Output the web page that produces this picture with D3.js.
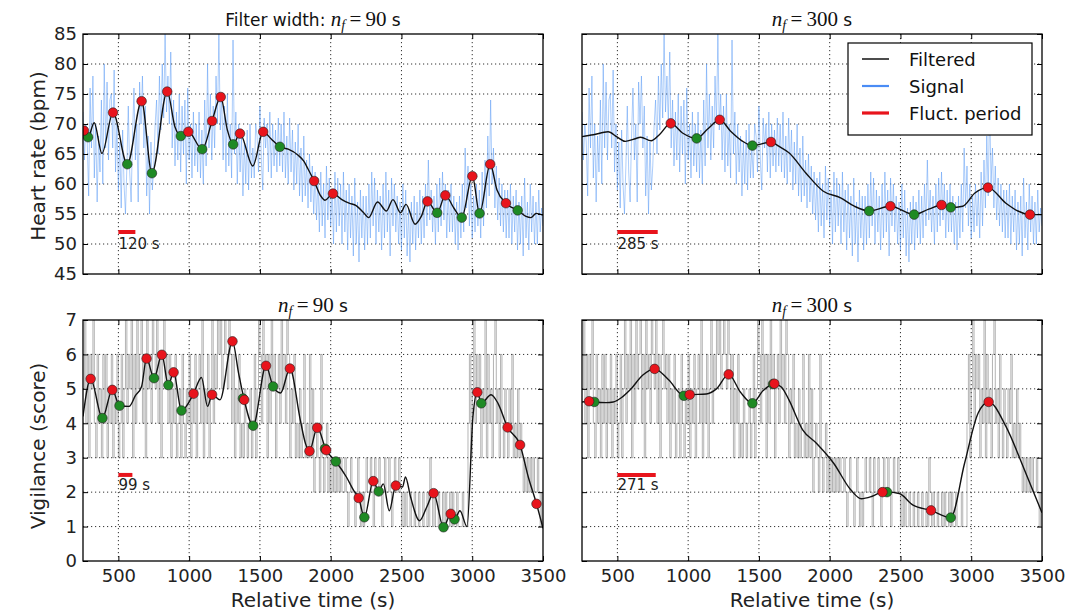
<!DOCTYPE html>
<html>
<head>
<meta charset="utf-8">
<script src="https://cdn.jsdelivr.net/npm/d3@7"></script>
<style>
  body { margin: 0; background: #fff; }
  svg { font-family: "DejaVu Sans", sans-serif; }
  .grid line { stroke: #333; stroke-width: 1; stroke-dasharray: 1.2,2.8; }
  .axis path { display: none; }
  .axis line { stroke: #000; stroke-width: 1; }
  .axis text { font-size: 18px; fill: #222; font-family: "DejaVu Sans", sans-serif; }
  .frame { fill: none; stroke: #000; stroke-width: 1.3; }
  .signal-hr { fill: none; stroke: #4a90f5; stroke-width: 0.9; stroke-opacity: 0.5; }
  .signal-vig { fill: none; stroke: #5a5a5a; stroke-width: 0.7; stroke-opacity: 0.65; }
  .filtered { fill: none; stroke: #111; stroke-width: 1.4; }
  .scalebar { stroke: #e8141c; stroke-width: 4; }
  .scalelabel { font-size: 15px; fill: #222; }
  .ylabel, .xlabel { font-size: 20px; fill: #222; }
</style>
<title>Heart rate and vigilance fluctuations</title>
</head>
<body>
<svg id="chart" width="1082" height="612"></svg>
<script>
// raw signals, one sample every 10 s from 250 s
var tStart = 250, tStep = 10;

var heartRate = [
  72,64,70,67,58,76,66,78,61,70, 57,68,62,74,60,80,66,77,64,74,   // 250
  75,66,79,62,70,59,67,56,69,60, 55,63,73,62,57,68,76,64,70,57,   // 450
  77,70,78,66,73,58,68,55,67,59, 63,70,74,65,78,69,80,71,85,72,   // 650
  78,70,82,66,74,63,72,64,75,62, 73,65,74,60,76,64,70,61,72,63,   // 850
  70,62,72,61,69,60,74,63,80,66, 75,64,73,66,78,70,85,69,75,64,   // 1050
  73,62,75,63,70,61,84,65,72,60, 70,62,68,58,67,60,69,59,70,61,   // 1250
  66,61,70,68,62,73,64,59,71,66, 70,62,72,61,70,63,69,62,71,63,   // 1450
  70,62,72,61,68,60,71,62,69,59, 67,60,70,58,66,57,68,58,64,56,   // 1650
  65,57,63,55,62,54,61,52,62,53, 60,51,63,54,61,53,59,50,62,52,   // 1850
  61,53,60,50,62,52,59,49,60,51, 58,48,61,50,57,47,59,51,58,49,   // 2050
  58,50,60,51,62,53,61,50,59,52, 58,49,60,51,62,52,59,48,61,53,   // 2250
  60,52,58,50,57,49,60,51,59,48, 56,47,57,50,58,49,57,51,59,50,   // 2450
  58,51,60,53,64,54,59,52,58,50, 60,52,61,53,62,54,60,51,59,52,   // 2650
  60,52,58,50,57,49,58,51,60,52, 66,56,63,53,60,51,58,52,60,53,   // 2850
  59,51,62,53,64,56,68,58,74,60, 66,56,63,54,61,53,60,52,59,51,   // 3050
  59,51,60,50,58,52,59,49,57,50, 58,48,61,51,57,49,60,52,58,50,   // 3250
  57,50,59,52,56,53                                               // 3450
];

var vigilance = [
  5,7,4,6,3,6,5,7,4,3, 6,4,5,3,6,4,6,3,5,4,   // 250
  6,3,5,4,6,3,4,6,3,5, 7,4,6,5,7,3,6,4,7,5,   // 450
  6,7,4,6,3,7,5,6,4,7, 6,5,7,4,6,3,6,7,5,6,   // 650
  4,6,3,5,4,6,3,4,5,3, 6,4,3,5,4,6,3,5,4,6,   // 850
  3,5,6,4,7,3,5,4,6,3, 5,7,4,6,5,7,6,7,5,6,   // 1050
  7,6,5,7,6,4,6,3,5,4, 6,3,4,3,5,4,3,4,5,3,   // 1250
  4,6,3,5,7,6,4,7,5,6, 3,6,4,7,5,6,3,5,6,4,   // 1450
  7,5,6,4,7,6,3,5,4,6, 3,4,3,5,3,4,6,3,4,3,   // 1650
  6,3,5,2,3,4,3,2,6,3, 2,3,4,2,3,2,3,2,3,2,   // 1850
  3,2,3,2,2,3,2,1,2,3, 2,2,1,2,3,2,1,2,1,2,   // 2050
  3,2,2,3,2,1,3,2,2,3, 2,1,2,3,2,2,3,2,1,2,   // 2250
  3,2,2,3,2,1,2,1,2,1, 1,2,1,1,2,1,1,2,1,1,   // 2450
  2,1,1,2,1,3,2,1,2,1, 1,2,1,1,2,1,2,1,1,2,   // 2650
  1,2,1,1,2,1,1,1,2,1, 1,1,4,6,3,5,7,4,6,5,   // 2850
  6,3,5,4,7,3,6,4,5,3, 6,7,4,5,3,6,4,3,5,4,   // 3050
  3,5,4,6,3,4,3,5,3,4, 3,2,3,2,3,2,3,2,3,2,   // 3250
  2,3,2,1,2,1                                 // 3450
];

// filtered curves [time, value]
var hrFilt90 = [[250,69.2],[256,68.9],[286,67.8],[329,70.2],[384,65.1],[462,71.9],[563,63.3],[664,73.8],
  [737,61.8],[845,75.4],[900,69.5],[941,68.0],[994,68.7],[1092,65.8],[1162,70.5],[1223,74.5],[1270,69.0],
  [1311,66.6],[1359,68.4],[1450,63.0],[1523,68.7],[1580,67.5],[1641,66.2],[1700,65.8],[1770,64.8],
  [1810,63.8],[1840,62.5],[1883,60.5],[1930,58.0],[1960,57.3],[2016,58.4],[2079,57.4],[2130,56.8],
  [2180,56.4],[2230,55.3],[2268,54.4],[2331,57.0],[2394,55.5],[2440,57.4],[2494,55.2],[2532,56.6],
  [2596,53.3],[2640,54.6],[2684,57.1],[2752,55.2],[2810,58.1],[2870,56.0],[2926,54.4],[3001,61.3],
  [3052,55.1],[3127,63.3],[3175,59.0],[3238,56.8],[3321,55.6],[3380,54.6],[3414,54.4],[3452,55.1],[3500,54.8]];
var hrFilt300 = [[250,67.9],[330,68.2],[434,68.7],[500,67.8],[556,67.1],[620,67.5],[665,67.8],[738,67.2],
  [800,68.3],[877,70.1],[960,68.5],[1060,67.6],[1140,69.2],[1223,70.7],[1300,68.8],[1380,67.2],[1454,66.4],
  [1585,67.0],[1640,66.3],[1712,65.2],[1833,61.8],[1955,58.8],[2077,57.7],[2174,56.3],[2279,55.5],
  [2429,56.3],[2597,54.9],[2700,55.8],[2790,56.5],[2855,56.1],[2940,56.3],[3026,58.5],[3118,59.4],
  [3245,56.8],[3330,55.5],[3415,54.9],[3500,54.9]];
var vigFilt90 = [[250,4.2],[304,5.29],[387,4.15],[457,4.97],[508,4.51],[576,4.49],[620,4.8],[664,5.07],
  [699,5.88],[752,5.31],[807,5.99],[853,5.11],[890,5.48],[946,4.37],[1031,4.86],[1087,5.33],[1130,4.49],
  [1162,4.83],[1218,4.68],[1306,6.38],[1349,5.46],[1389,4.68],[1452,3.93],[1543,5.67],[1593,5.07],
  [1646,4.88],[1712,5.59],[1785,4.1],[1822,3.41],[1850,3.19],[1905,3.87],[1968,3.22],[2036,2.89],
  [2111,2.44],[2162,2.05],[2198,1.83],[2238,1.27],[2301,2.32],[2339,2.02],[2372,2.24],[2414,1.46],
  [2460,2.19],[2508,2.15],[2528,2.44],[2565,1.85],[2628,1.17],[2678,1.56],[2727,1.97],[2797,0.98],
  [2848,1.37],[2875,1.21],[2913,1.46],[2963,1.0],[3005,4.19],[3036,4.9],[3064,4.58],[3133,4.83],
  [3182,4.58],[3250,3.88],[3338,3.37],[3396,2.44],[3454,1.66],[3500,0.95]];
var vigFilt300 = [[250,4.62],[300,4.64],[337,4.62],[420,4.6],[471,4.62],[530,4.75],[592,4.98],[680,5.4],
  [763,5.58],[860,5.27],[970,4.8],[1011,4.83],[1128,4.85],[1200,5.0],[1286,5.42],[1370,4.9],[1454,4.58],
  [1530,4.95],[1609,5.15],[1660,5.05],[1712,4.68],[1809,3.81],[1906,3.42],[2028,2.84],[2150,2.06],
  [2223,1.81],[2300,1.88],[2373,2.0],[2405,2.0],[2491,1.96],[2589,1.62],[2716,1.47],[2855,1.26],
  [2953,2.84],[3049,4.3],[3123,4.62],[3245,3.91],[3367,2.74],[3500,1.4]];

// fluctuation peaks (red) and troughs (green)
var hrPeaks90 = [[256,68.9],[462,71.9],[664,73.8],[845,75.4],[994,68.7],[1162,70.5],[1223,74.5],[1359,68.4],
  [1523,68.7],[1883,60.5],[2016,58.4],[2684,57.1],[2810,58.1],[3001,61.3],[3127,63.3],[3238,56.8]];
var hrTroughs90 = [[286,67.8],[563,63.3],[737,61.8],[941,68.0],[1092,65.8],[1311,66.6],[1641,66.2],
  [2752,55.2],[2926,54.4],[3052,55.1],[3321,55.6]];
var hrPeaks300 = [[877,70.1],[1223,70.7],[1585,67.0],[2429,56.3],[2790,56.5],[3118,59.4],[3415,54.9]];
var hrTroughs300 = [[1060,67.6],[1454,66.4],[2279,55.5],[2597,54.9],[2855,56.1]];
var vigPeaks90 = [[304,5.29],[457,4.97],[699,5.88],[807,5.99],[890,5.48],[1031,4.86],[1162,4.83],[1306,6.38],
  [1389,4.68],[1543,5.67],[1712,5.59],[1850,3.19],[1905,3.87],[1968,3.22],[2198,1.83],[2301,2.32],
  [2460,2.19],[2727,1.97],[2848,1.37],[3036,4.9],[3250,3.88],[3338,3.37],[3454,1.66]];
var vigTroughs90 = [[387,4.15],[508,4.51],[752,5.31],[853,5.11],[946,4.37],[1380,4.72],[1452,3.93],[1593,5.07],
  [1960,3.26],[2036,2.89],[2238,1.27],[2339,2.02],[2797,0.98],[2875,1.21],[3064,4.58]];
var vigPeaks300 = [[300,4.64],[763,5.58],[1011,4.83],[1286,5.42],[1609,5.15],[2373,2.0],[2716,1.47],[3123,4.62]];
var vigTroughs300 = [[337,4.62],[970,4.8],[1454,4.58],[1600,5.14],[2405,2.0],[2855,1.26]];

// fluctuation period scale bars
var periods = [120, 285, 99, 271];

var xTicks = [500, 1000, 1500, 2000, 2500, 3000, 3500];
var hrTicks = [45, 50, 55, 60, 65, 70, 75, 80, 85];
var vigTicks = [0, 1, 2, 3, 4, 5, 6, 7];
var legendLabels = ["Filtered", "Signal", "Fluct. period"];

var svg = d3.select("#chart");
var W = 460, H = 240;
var x = d3.scaleLinear().domain([250, 3500]).range([0, W]);
var yHr = d3.scaleLinear().domain([45, 85]).range([H, 0]);
var yVig = d3.scaleLinear().domain([0, 7]).range([H + 1, 0]);

var hrSeries = heartRate.map(function(v, i) { return [tStart + i * tStep, v]; });
var vigSeries = vigilance.map(function(v, i) { return [tStart + i * tStep, v]; });

var panels = [
  {id: "p0", left: 83,  top: 34,  y: yHr,  ticks: hrTicks,  sig: hrSeries,  sigCls: "signal-hr",  filt: hrFilt90,
   peaks: hrPeaks90, troughs: hrTroughs90, period: periods[0], barY: 52, labY: 49.2, ylab: true, xlab: false,
   prefix: "Filter width: ", nf: "90"},
  {id: "p1", left: 582, top: 34,  y: yHr,  ticks: hrTicks,  sig: hrSeries,  sigCls: "signal-hr",  filt: hrFilt300,
   peaks: hrPeaks300, troughs: hrTroughs300, period: periods[1], barY: 52, labY: 49.2, ylab: false, xlab: false,
   prefix: "", nf: "300", legend: true},
  {id: "p2", left: 83,  top: 320, y: yVig, ticks: vigTicks, sig: vigSeries, sigCls: "signal-vig", filt: vigFilt90,
   peaks: vigPeaks90, troughs: vigTroughs90, period: periods[2], barY: 2.5, labY: 2.06, ylab: true, xlab: true,
   prefix: "", nf: "90"},
  {id: "p3", left: 582, top: 320, y: yVig, ticks: vigTicks, sig: vigSeries, sigCls: "signal-vig", filt: vigFilt300,
   peaks: vigPeaks300, troughs: vigTroughs300, period: periods[3], barY: 2.5, labY: 2.06, ylab: false, xlab: true,
   prefix: "", nf: "300"}
];

panels.forEach(function(p) {
  var y = p.y, h = y.range()[0];
  var g = svg.append("g").attr("transform", "translate(" + p.left + "," + p.top + ")");

  g.append("clipPath").attr("id", "clip-" + p.id)
    .append("rect").attr("width", W).attr("height", h);

  // dotted grid
  var grid = g.append("g").attr("class", "grid");
  grid.selectAll(".gx").data(xTicks.slice(0, -1)).enter().append("line")
    .attr("x1", x).attr("x2", x).attr("y1", 0).attr("y2", h);
  grid.selectAll(".gy").data(p.ticks.slice(1, -1)).enter().append("line")
    .attr("x1", 0).attr("x2", W).attr("y1", y).attr("y2", y);

  var body = g.append("g").attr("clip-path", "url(#clip-" + p.id + ")");

  var sigLine = d3.line().x(function(d) { return x(d[0]); }).y(function(d) { return y(d[1]); });
  if (p.sigCls === "signal-vig") sigLine.curve(d3.curveStepAfter);
  body.append("path").datum(p.sig).attr("class", p.sigCls).attr("d", sigLine);

  var filtLine = d3.line().x(function(d) { return x(d[0]); }).y(function(d) { return y(d[1]); })
    .curve(d3.curveMonotoneX);
  body.append("path").datum(p.filt).attr("class", "filtered").attr("d", filtLine);

  // fluctuation markers
  body.selectAll(".trough").data(p.troughs).enter().append("circle")
    .attr("cx", function(d) { return x(d[0]); }).attr("cy", function(d) { return y(d[1]); })
    .attr("r", 4.8).attr("fill", "#1e8a24").attr("stroke", "#222").attr("stroke-width", 0.6);
  body.selectAll(".peak").data(p.peaks).enter().append("circle")
    .attr("cx", function(d) { return x(d[0]); }).attr("cy", function(d) { return y(d[1]); })
    .attr("r", 4.8).attr("fill", "#e8141c").attr("stroke", "#222").attr("stroke-width", 0.6);

  // scale bar for mean fluctuation period
  g.append("line").attr("class", "scalebar")
    .attr("x1", x(500)).attr("x2", x(500 + p.period))
    .attr("y1", y(p.barY)).attr("y2", y(p.barY));
  g.append("text").attr("class", "scalelabel")
    .attr("x", x(500)).attr("y", y(p.labY))
    .text(p.period + " s");

  g.append("rect").attr("class", "frame").attr("width", W).attr("height", h);

  // inward ticks on all four sides
  g.append("g").attr("class", "axis").attr("transform", "translate(0," + h + ")")
    .call(d3.axisBottom(x).tickValues(xTicks).tickSize(-5).tickPadding(8)
      .tickFormat(p.xlab ? d3.format("d") : function() { return ""; }));
  g.append("g").attr("class", "axis")
    .call(d3.axisTop(x).tickValues(xTicks).tickSize(-5).tickFormat(function() { return ""; }));
  g.append("g").attr("class", "axis")
    .call(d3.axisLeft(y).tickValues(p.ticks).tickSize(-5).tickPadding(6)
      .tickFormat(p.ylab ? d3.format("d") : function() { return ""; }));
  g.append("g").attr("class", "axis").attr("transform", "translate(" + W + ",0)")
    .call(d3.axisRight(y).tickValues(p.ticks).tickSize(-5).tickFormat(function() { return ""; }));

  // title with math n_f
  var title = g.append("text").attr("x", W / 2).attr("y", -8)
    .attr("text-anchor", "middle").attr("font-size", 17).attr("fill", "#111");
  if (p.prefix) title.append("tspan").text(p.prefix);
  title.append("tspan").attr("font-family", "Liberation Serif").attr("font-style", "italic")
    .attr("font-size", 21).text("n");
  title.append("tspan").attr("font-family", "Liberation Serif").attr("font-style", "italic")
    .attr("font-size", 14).attr("dy", 4).text("f");
  title.append("tspan").attr("font-family", "Liberation Serif").attr("font-size", 21)
    .attr("dy", -4).text("\u2009=\u2009" + p.nf);
  title.append("tspan").text(" s");

  if (p.xlab) {
    g.append("text").attr("class", "xlabel").attr("x", W / 2).attr("y", h + 46)
      .attr("text-anchor", "middle").text("Relative time (s)");
  }

  if (p.legend) {
    var lg = g.append("g").attr("transform", "translate(" + (848 - p.left) + "," + (43 - p.top) + ")");
    lg.append("rect").attr("width", 184).attr("height", 92)
      .attr("fill", "#fff").attr("stroke", "#000").attr("stroke-width", 1.2);
    var colors = ["#111", "#4a8cf5", "#e8141c"];
    var widths = [1.5, 2.2, 3.2];
    legendLabels.forEach(function(lab, i) {
      var ly = 16 + i * 27;
      lg.append("line").attr("x1", 14).attr("x2", 41).attr("y1", ly).attr("y2", ly)
        .attr("stroke", colors[i]).attr("stroke-width", widths[i]);
      lg.append("text").attr("x", 61).attr("y", ly + 6.5).attr("font-size", 18)
        .attr("fill", "#111").text(lab);
    });
  }
});

// y axis labels
svg.append("text").attr("class", "ylabel").attr("text-anchor", "middle")
  .attr("transform", "translate(45,156) rotate(-90)").text("Heart rate (bpm)");
svg.append("text").attr("class", "ylabel").attr("text-anchor", "middle")
  .attr("transform", "translate(45,446) rotate(-90)").text("Vigilance (score)");
</script>
</body>
</html>
